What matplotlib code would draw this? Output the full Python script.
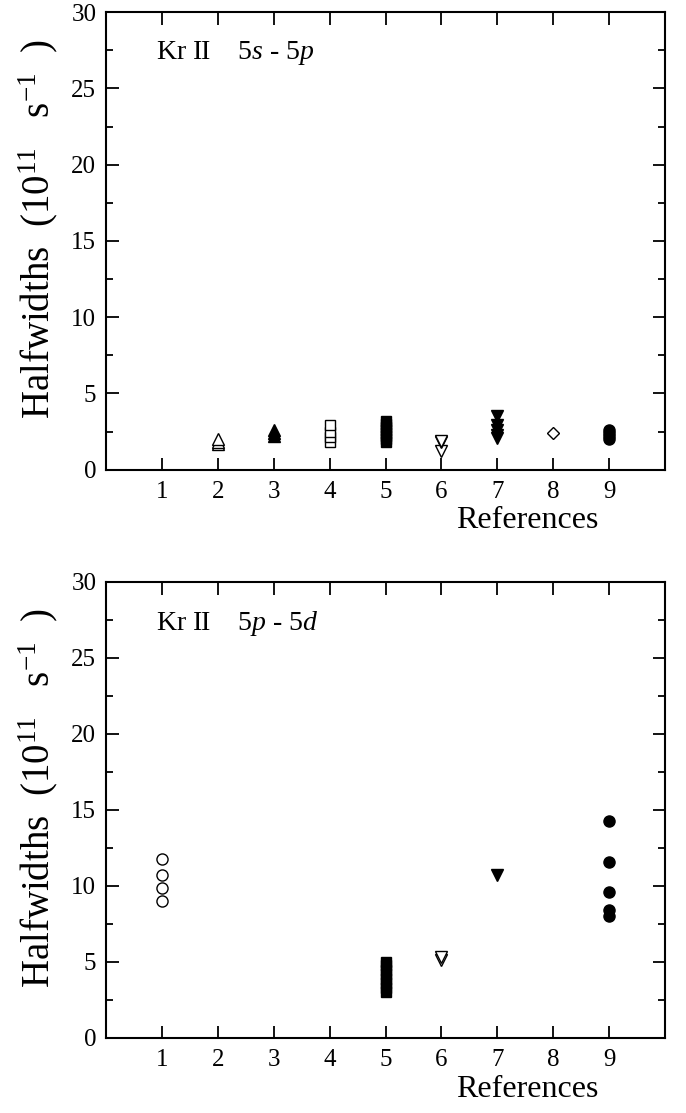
import matplotlib
matplotlib.use('Agg')
import matplotlib.pyplot as plt

plt.rcParams['font.family'] = ['Liberation Serif', 'DejaVu Serif']
plt.rcParams['mathtext.fontset'] = 'custom'
plt.rcParams['mathtext.rm'] = 'Liberation Serif'
plt.rcParams['mathtext.it'] = 'Liberation Serif:italic'

# top panel: Kr II 5s - 5p, halfwidths per reference
top_ref2 = [1.7, 1.8, 2.0]        # open triangle up
top_ref3 = [2.2, 2.4, 2.6]        # filled triangle up
top_ref4 = [1.8, 2.15, 2.5, 2.95]  # open square
top_ref5 = [1.8, 2.0, 2.2, 2.4, 2.6, 2.8, 3.0, 3.2]  # filled square
top_ref6 = [1.2, 1.8, 1.9]        # open triangle down
top_ref7 = [2.1, 2.3, 2.6, 2.9, 3.5]  # filled triangle down
top_ref8 = [2.4]                  # open diamond
top_ref9 = [2.0, 2.2, 2.4, 2.6]   # filled circle

# bottom panel: Kr II 5p - 5d
bot_ref1 = [9.0, 9.9, 10.7, 11.8]  # open circle
bot_ref5 = [3.0, 3.3, 3.6, 3.9, 4.2, 4.5, 4.8, 5.0]  # filled square
bot_ref6 = [5.1, 5.3]              # open triangle down
bot_ref7 = [10.7]                  # filled triangle down
bot_ref9 = [8.0, 8.4, 9.6, 11.6, 14.3]  # filled circle

xticks = [1, 2, 3, 4, 5, 6, 7, 8, 9]

fig = plt.figure(figsize=(6.86, 11.13), dpi=100)
ax1 = fig.add_axes([0.1545, 0.578, 0.815, 0.411])
ax2 = fig.add_axes([0.1545, 0.0674, 0.815, 0.4097])


def pts(ax, xv, yv, marker, filled, ms):
    ax.plot([xv] * len(yv), yv, linestyle='none', marker=marker, markersize=ms,
            markerfacecolor='black' if filled else 'white',
            markeredgecolor='black', markeredgewidth=1.0, clip_on=False)


pts(ax1, 2, top_ref2, '^', False, 8.5)
pts(ax1, 3, top_ref3, '^', True, 8.5)
pts(ax1, 4, top_ref4, 's', False, 7)
pts(ax1, 5, top_ref5, 's', True, 7)
pts(ax1, 6, top_ref6, 'v', False, 8.5)
pts(ax1, 7, top_ref7, 'v', True, 8.5)
pts(ax1, 8, top_ref8, 'D', False, 6.5)
pts(ax1, 9, top_ref9, 'o', True, 8)

pts(ax2, 1, bot_ref1, 'o', False, 8)
pts(ax2, 5, bot_ref5, 's', True, 7)
pts(ax2, 6, bot_ref6, 'v', False, 8.5)
pts(ax2, 7, bot_ref7, 'v', True, 8.5)
pts(ax2, 9, bot_ref9, 'o', True, 8)

for ax, title in [(ax1, 'Kr II    5$\\mathit{s}$ - 5$\\mathit{p}$'),
                  (ax2, 'Kr II    5$\\mathit{p}$ - 5$\\mathit{d}$')]:
    ax.set_xlim(0, 10)
    ax.set_ylim(0, 30)
    ax.set_xticks(xticks)
    ax.set_yticks([0, 5, 10, 15, 20, 25, 30])
    ax.set_yticks([2.5, 7.5, 12.5, 17.5, 22.5, 27.5], minor=True)
    ax.tick_params(which='major', direction='in', top=True, right=True,
                   length=9, width=1.3, labelsize=18, pad=8)
    ax.tick_params(which='minor', direction='in', top=False, right=True,
                   length=5, width=1.3)
    ax.tick_params(axis='y', which='major', pad=7)
    for s in ax.spines.values():
        s.set_linewidth(1.5)
    ax.set_ylabel('Halfwidths  (10$^{11}$   s$^{-1}$  )', fontsize=28)
    ax.yaxis.set_label_coords(-0.082, 0.525)
    ax.text(0.9, 27.3, title, fontsize=20, va='center', ha='left')
    ax.text(0.88, -0.112, 'References', transform=ax.transAxes, fontsize=23,
            ha='right', va='center')

fig.savefig('out.png', dpi=100)
